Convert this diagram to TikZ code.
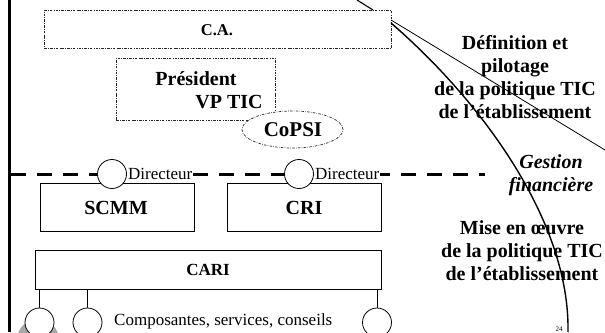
\documentclass[tikz,border=0pt]{standalone}
\usepackage{fontspec}
\setmainfont{Liberation Serif}
\usetikzlibrary{shapes.geometric}
\begin{document}
\begin{tikzpicture}[x=1pt,y=-1pt,
  dd/.style={draw=black!85, line width=0.7pt, dash pattern=on 2.5pt off 1.3pt on 0.6pt off 1.3pt},
  ddbox/.style={dd, fill=white, rectangle, inner sep=0pt, anchor=north west},
  sbox/.style={draw, line width=0.8pt, fill=white, rectangle, inner sep=0pt, anchor=north west},
  dcirc/.style={circle, draw, line width=0.8pt, fill=white, minimum size=29pt, inner sep=0pt},
  lbl/.style={font=\fontsize{20}{23}\selectfont\bfseries, align=center, inner sep=0pt},
  ilbl/.style={font=\fontsize{20}{23}\selectfont\bfseries\itshape, align=center, inner sep=0pt},
  small/.style={font=\fontsize{17}{20}\selectfont, inner sep=1pt},
]
\useasboundingbox (0,0) rectangle (605,332);
% left vertical rule
\draw[line width=2.4pt] (9.5,0) -- (9.5,332);
% C.A.
\node[ddbox, minimum width=347pt, minimum height=38pt] (ca) at (44,10) {};
\node[font=\fontsize{16.5}{18}\selectfont\bfseries, inner sep=0pt] (catxt) at (217,30) {C.A.};
% President
\node[ddbox, minimum width=159pt, minimum height=62pt] (pres) at (116,58) {};
\node[lbl] (prestxt) at (196,79) {Président};
\node[lbl] (vptxt) at (229,102) {VP TIC};
% CoPSI
\node[ellipse, dd, fill=white, minimum width=101pt, minimum height=37pt, inner sep=0pt] (copsi) at (292.5,129.5) {};
\node[font=\fontsize{21}{24}\selectfont\bfseries, inner sep=0pt] (copsitxt) at (293,130) {CoPSI};
% lines from top right
\coordinate (topin) at (357,0);
\coordinate (catop) at (373,10);
\draw[line width=1.1pt] (topin) -- (catop);
\coordinate (ca1) at (391,20);
\coordinate (ca2) at (391,23);
\coordinate (rend) at (605,150);
\coordinate (bend) at (568,332);
\draw[line width=0.8pt] (ca1) -- (rend);
\draw[line width=1.4pt] (ca2) .. controls (480,100) and (570,220) .. (bend);
% right texts
\node[lbl] (def) at (515,77) {Définition et\\pilotage\\de la politique TIC\\de l’établissement};
\node[ilbl] (gest) at (551,175) {Gestion\\financière};
\node[lbl] (mise) at (522,251) {Mise en œuvre\\de la politique TIC\\de l’établissement};
% dashed separation
\draw[line width=3pt, dash pattern=on 15pt off 11pt] (11,174) -- (485,174);
% SCMM and CRI
\node[sbox, minimum width=154pt, minimum height=48pt] (scmm) at (40,183) {};
\node[lbl] (scmmtxt) at (116,208) {SCMM};
\node[sbox, minimum width=154pt, minimum height=48pt] (cri) at (227,183) {};
\node[lbl] (critxt) at (304,208) {CRI};
% Directeur circles
\node[dcirc] (d1) at (112,174) {};
\node[small, anchor=west, fill=white] (d1t) at (d1.east) {Directeur};
\node[dcirc] (d2) at (299,174) {};
\node[small, anchor=west, fill=white] (d2t) at (d2.east) {Directeur};
% CARI
\node[sbox, minimum width=346pt, minimum height=39pt] (cari) at (35,250) {};
\node[font=\fontsize{17}{20}\selectfont\bfseries, inner sep=0pt] (caritxt) at (208,270) {CARI};
% gray shape
\fill[black!35] (38,340) circle[radius=21pt];
% bottom circles
\node[dcirc] (c1) at (39.5,322.5) {};
\node[dcirc] (c2) at (87.5,322.5) {};
\node[dcirc] (c3) at (377,322.5) {};
\draw[line width=0.9pt] (cari.south -| c1) -- (c1.north);
\draw[line width=0.9pt] (cari.south -| c2) -- (c2.north);
\draw[line width=0.9pt] (cari.south -| c3) -- (c3.north);
\node[small, anchor=west] (comp) at (113,321) {Composantes, services, conseils};
\node[font=\fontsize{7}{8}\selectfont, anchor=south, inner sep=0.5pt] (pg) at (559,332) {24};
\end{tikzpicture}
\end{document}
